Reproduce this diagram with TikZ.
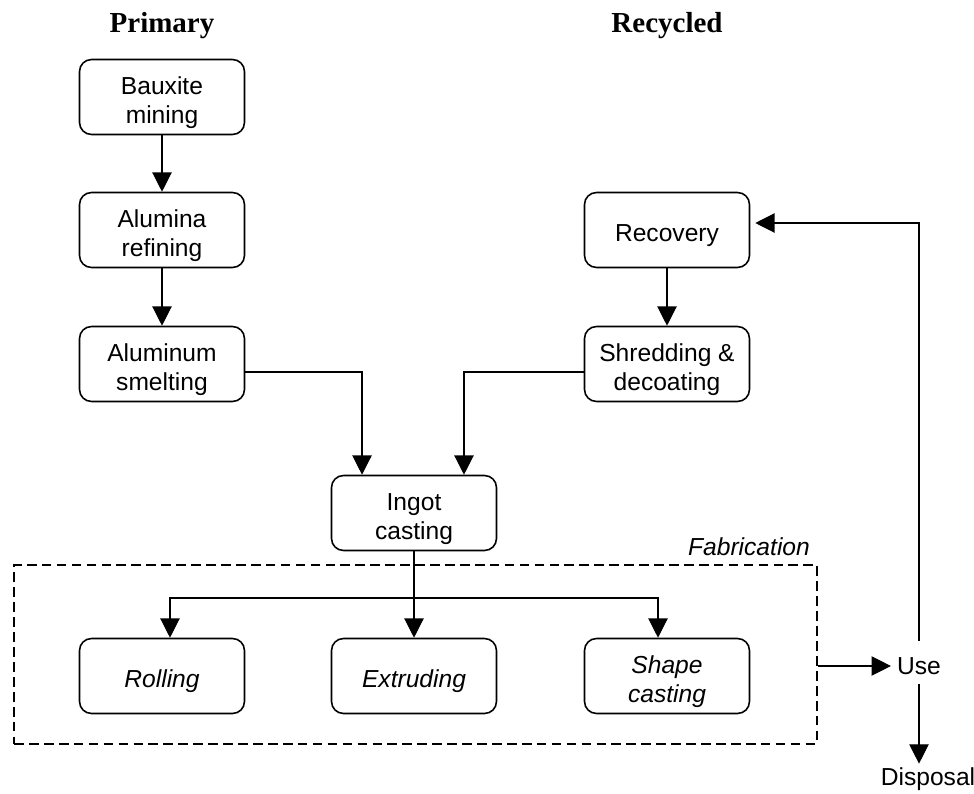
\documentclass[tikz,border=0pt]{standalone}
\usepackage{fontspec}
\setmainfont{Liberation Sans}
\newfontfamily\headfont{Liberation Serif}
\usetikzlibrary{arrows.meta}
\newcommand\lift{\rule{0pt}{16.5pt}}
\tikzset{
  stage/.style={draw, rounded corners=0.24cm, line width=0.9pt, minimum width=3.3cm, minimum height=1.5cm, inner ysep=1pt, align=center, font=\fontsize{14}{17}\selectfont},
  flow/.style={-{Triangle[width=11pt,length=11pt]}, line width=0.7pt},
  heading/.style={font=\headfont\bfseries\fontsize{16.5}{20}\selectfont},
  plain/.style={font=\fontsize{14}{17}\selectfont}
}
\begin{document}
\begin{tikzpicture}[x=0.02cm,y=-0.02cm]
\useasboundingbox (0,0) rectangle (974,794);
    \node[heading] at (162,26) {Primary};
    \node[heading] at (667,26) {Recycled};
    % primary route
    \node[stage] (baux) at (162,97) {\lift Bauxite\\mining};
    \node[stage] (alum) at (162,230) {\lift Alumina\\refining};
    \node[stage] (smelt) at (162,364) {\lift Aluminum\\smelting};
    % recycled route
    \node[stage] (recov) at (667,230) {\lift Recovery};
    \node[stage] (shred) at (667,364) {\lift Shredding \&\\decoating};
    \node[stage] (ingot) at (414,513) {\lift Ingot\\casting};
    % fabrication
    \node[draw, dashed, dash pattern=on 5.5pt off 3pt, line width=1.1pt, minimum width=16.06cm, minimum height=3.58cm] (fab) at (415.5,654.5) {};
    \node[plain, font=\fontsize{14}{17}\selectfont\itshape] at (749,547) {Fabrication};
    \node[stage, font=\fontsize{14}{17}\selectfont\itshape] (roll) at (162,676) {\lift Rolling};
    \node[stage, font=\fontsize{14}{17}\selectfont\itshape] (extr) at (414,676) {\lift Extruding};
    \node[stage, font=\fontsize{14}{17}\selectfont\itshape] (shape) at (667,676) {\lift Shape\\casting};
    \coordinate (split) at (414,598);
    \node[plain, text height=10pt, text depth=0pt, inner ysep=9pt] (use) at (919,666) {Use};
    \node[plain, inner sep=2pt] (disp) at (928,779) {Disposal};

    \draw[flow] (baux) -- (alum);
    \draw[flow] (alum) -- (smelt);
    \draw[flow] (recov) -- (shred);
    \draw[flow] ([yshift=-0.16cm]smelt.east) -| ([xshift=-1.04cm]ingot.north);
    \draw[flow] ([yshift=-0.16cm]shred.west) -| ([xshift=1.0cm]ingot.north);
    \draw[flow] (ingot) -- (extr);
    \draw[flow] (split) -| ([xshift=0.16cm]roll.north);
    \draw[flow] (split) -| ([xshift=-0.18cm]shape.north);
    \draw[flow] (fab.east |- use) -- (use.west);
    \draw[flow] (use.north) |- ([shift={(0.1cm,0.14cm)}]recov.east);
    \draw[flow] ([yshift=4pt]use.south) -- (use.south |- disp.north);
\end{tikzpicture}
\end{document}
